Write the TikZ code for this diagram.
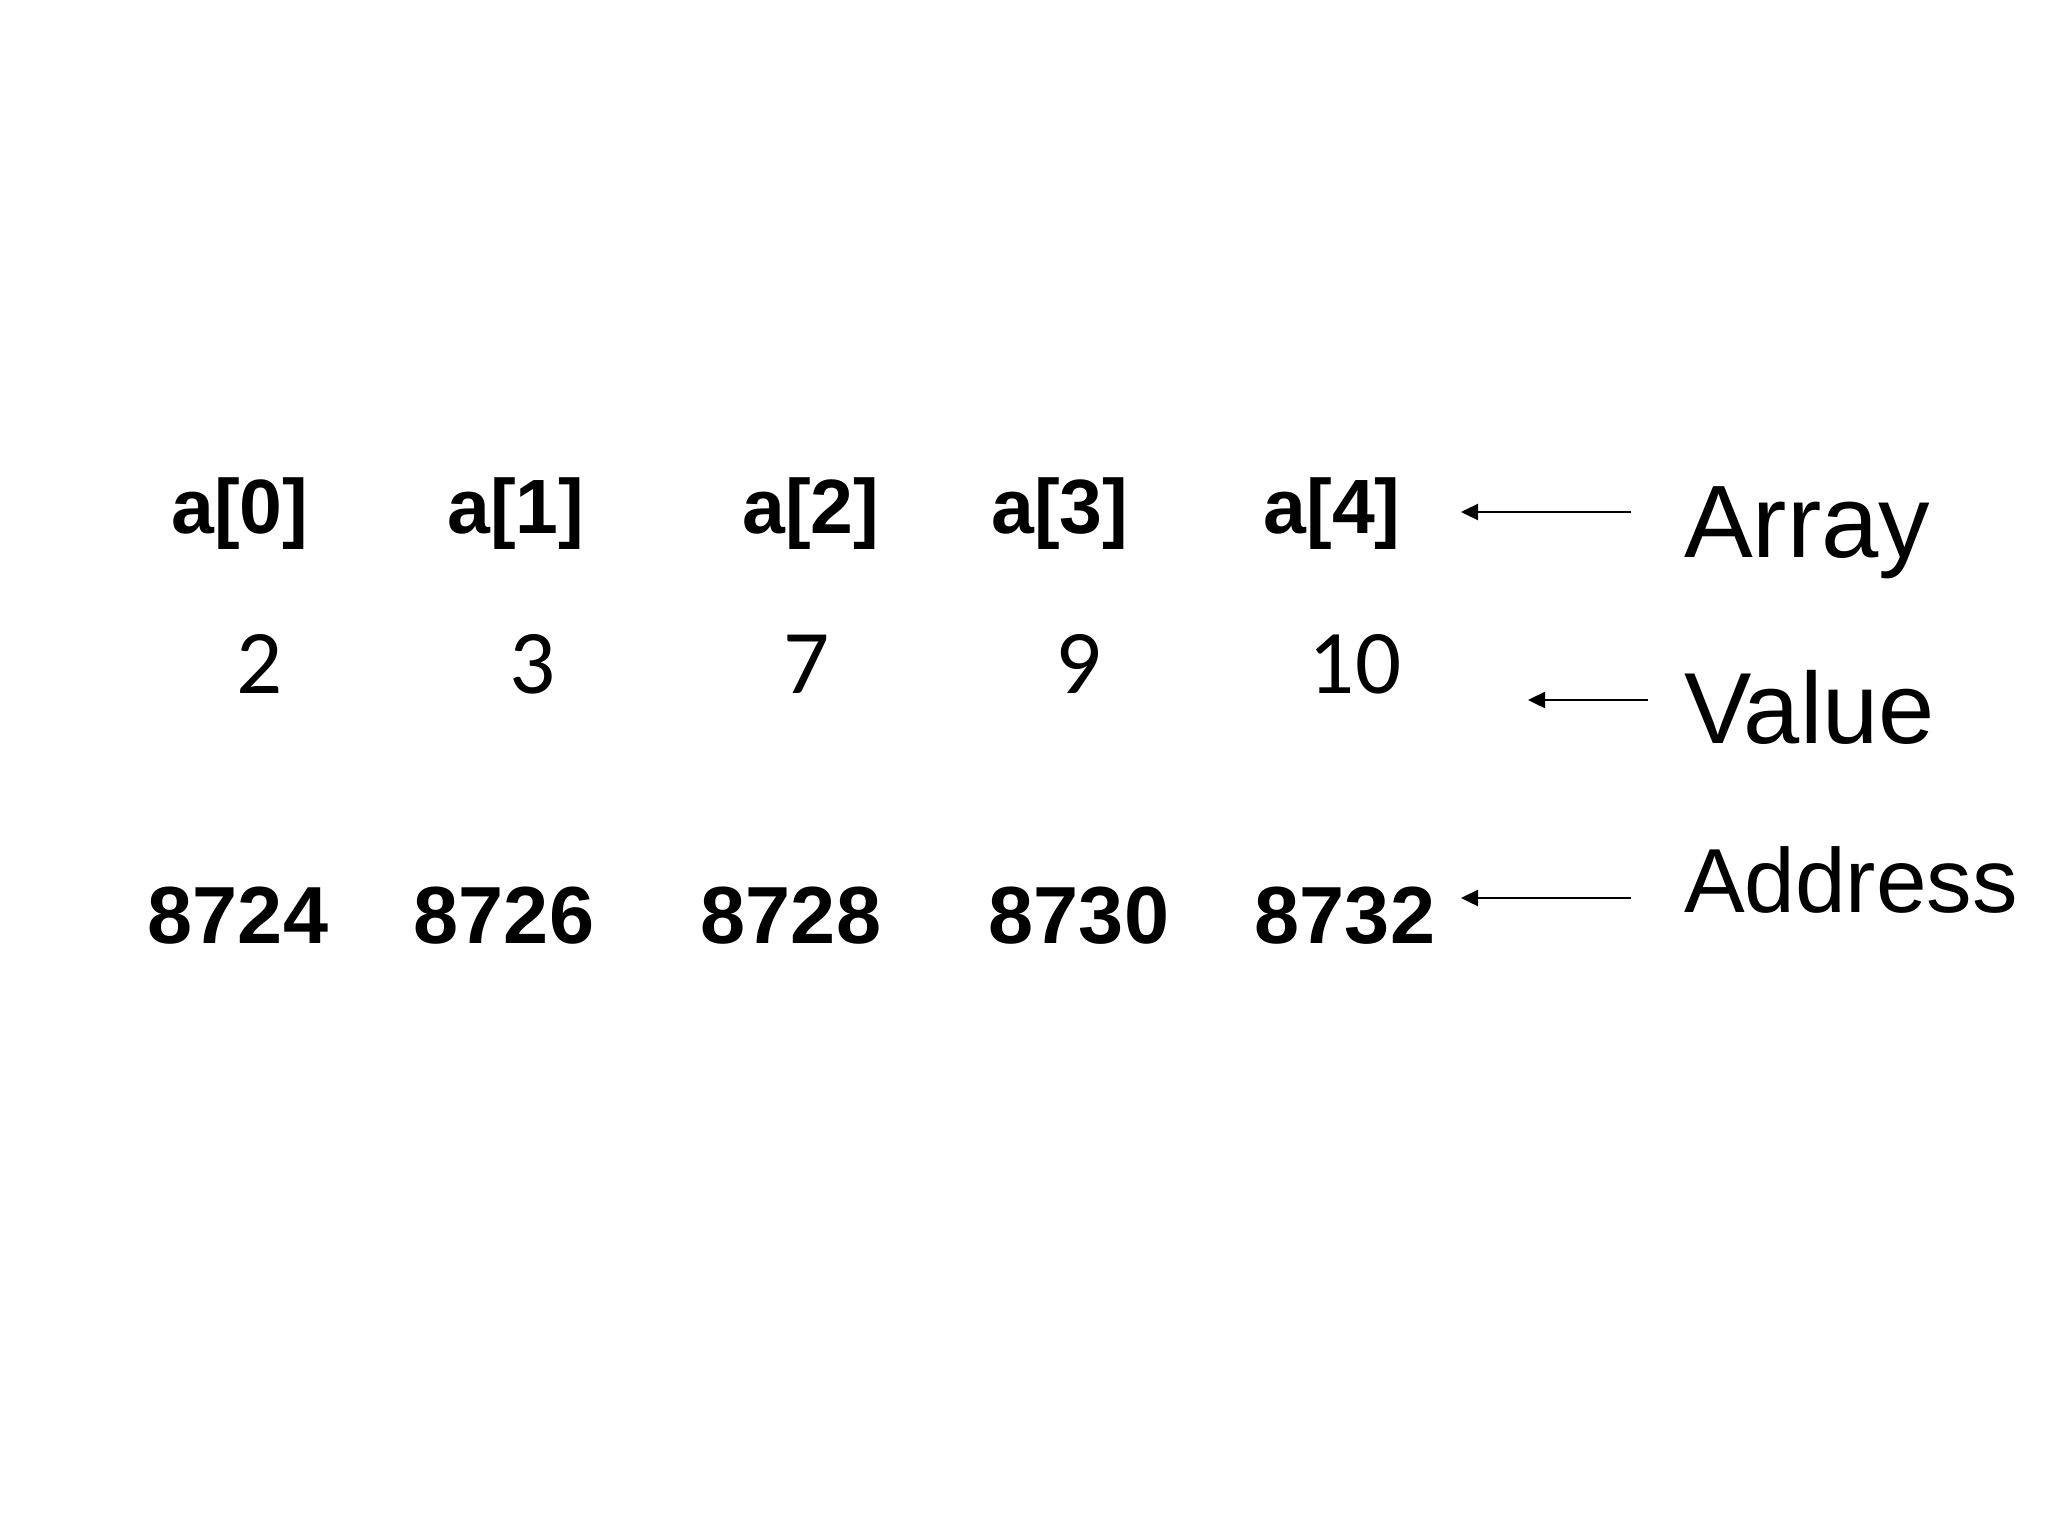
\documentclass[tikz,border=0pt]{standalone}
\usepackage{fontspec}
\setmainfont{Liberation Sans}
\IfFontExistsTF{Carlito}{\newfontfamily\calfont{Carlito}}{\newfontfamily\calfont{DejaVu Sans}}
\usetikzlibrary{arrows.meta}
\tikzset{
  idx/.style={inner sep=0pt, outer sep=0pt, anchor=base, font=\fontsize{77}{90}\selectfont\bfseries},
  numval/.style={inner sep=0pt, outer sep=0pt, anchor=base, font=\calfont\fontsize{91}{100}\selectfont},
  addr/.style={inner sep=0pt, outer sep=0pt, anchor=base, font=\fontsize{81}{95}\selectfont\bfseries},
  lbl/.style={inner sep=0pt, outer sep=0pt, anchor=base west},
  ptr/.style={line width=2.5pt, -{Triangle[length=17pt,width=16pt]}}
}
\begin{document}
\begin{tikzpicture}[x=1pt,y=-1pt]
\useasboundingbox (0,0) rectangle (2048,1536);
% index row
\node[idx] (i0) at (240,533) {a[0]};
\node[idx] (i1) at (516,533) {a[1]};
\node[idx] (i2) at (811,533) {a[2]};
\node[idx] (i3) at (1060,533) {a[3]};
\node[idx] (i4) at (1332,533) {a[4]};
% value row
\node[numval] (v0) at (260,693) {2};
\node[numval] (v1) at (533,693) {3};
\node[numval] (v2) at (807,693) {7};
\node[numval] (v3) at (1079,693) {9};
\node[numval] (v4) at (1355,693) {10};
% address row
\node[addr] (d0) at (238,943) {8724};
\node[addr] (d1) at (504,943) {8726};
\node[addr] (d2) at (791,943) {8728};
\node[addr] (d3) at (1079,943) {8730};
\node[addr] (d4) at (1345,943) {8732};
% labels
\node[lbl, font=\fontsize{103}{110}\selectfont] (lArr) at (1684,557) {Array};
\node[lbl, font=\fontsize{101}{110}\selectfont] (lVal) at (1684,743) {Value};
\node[lbl, font=\fontsize{91}{100}\selectfont] (lAdd) at (1684,912) {Address};
% arrow ends
\coordinate (aT) at (1631,512); \coordinate (aH) at (1461,512);
\coordinate (vT) at (1648,700); \coordinate (vH) at (1528,700);
\coordinate (dT) at (1631,898); \coordinate (dH) at (1461,898);
\draw[ptr] (aT) -- (aH);
\draw[ptr] (vT) -- (vH);
\draw[ptr] (dT) -- (dH);
\end{tikzpicture}
\end{document}
